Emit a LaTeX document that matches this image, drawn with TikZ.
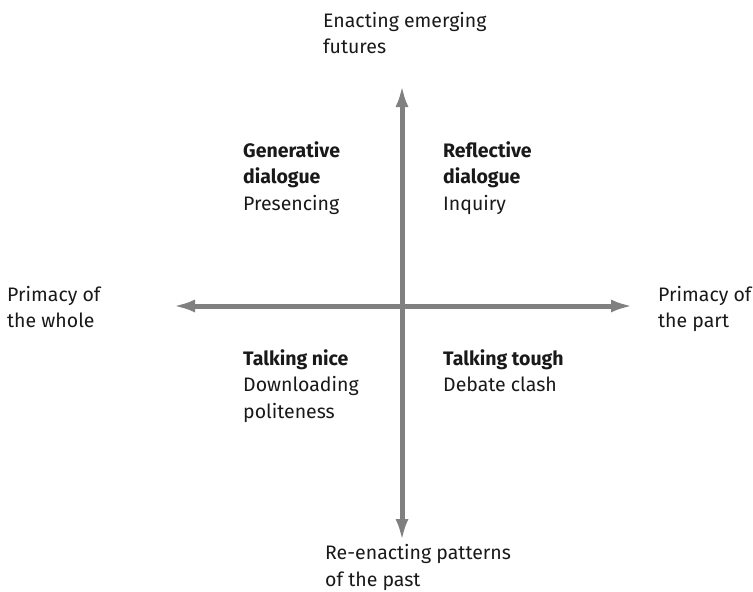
\documentclass[tikz,border=0pt]{standalone}
\usepackage{fontspec}
\setmainfont{Fira Sans}
\usetikzlibrary{arrows.meta}
\definecolor{axisgray}{RGB}{128,128,128}
\definecolor{txt}{RGB}{25,25,25}
\begin{document}
\begin{tikzpicture}[x=1pt,y=-1pt,
  lbl/.style={anchor=base west, align=left, inner sep=0pt, text=txt,
    font=\fontsize{19.5}{26.5}\selectfont},
  axisline/.style={draw=axisgray, line width=5pt,
    {Latex[length=22pt,width=13pt]}-{Latex[length=22pt,width=13pt]}}]
\useasboundingbox (0,0) rectangle (753,592);
\coordinate (top) at (402,85);
\coordinate (bottom) at (402,541);
\coordinate (left) at (173,306);
\coordinate (right) at (633,306);
\draw[axisline] (bottom) -- (top);
\draw[axisline] (left) -- (right);
% anchors are at the baseline of the last line
\node[lbl] (future) at (323,53.5) {Enacting emerging\\futures};
\node[lbl] (past) at (325,586) {Re-enacting patterns\\of the past};
\node[lbl] (whole) at (7,327.5) {Primacy of\\the whole};
\node[lbl] (part) at (658,327.5) {Primacy of\\the part};
\node[lbl] (gen) at (243,210) {\textbf{Generative}\\\textbf{dialogue}\\Presencing};
\node[lbl] (refl) at (443,210) {\textbf{Reflective}\\\textbf{dialogue}\\Inquiry};
\node[lbl] (nice) at (243,418) {\textbf{Talking nice}\\Downloading\\politeness};
\node[lbl] (tough) at (443,391.5) {\textbf{Talking tough}\\Debate clash};
\end{tikzpicture}
\end{document}
